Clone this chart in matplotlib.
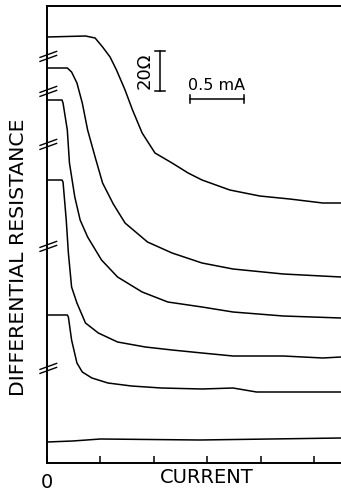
import matplotlib
matplotlib.use("Agg")
import matplotlib.pyplot as plt

# --- DATA (current in mA, differential resistance in ohm, curves offset) ---
c1_i = [0.00, 0.36, 0.45, 0.52, 0.59, 0.65, 0.73, 0.80, 0.89, 1.01, 1.17, 1.32, 1.45, 1.71, 1.99, 2.27, 2.58, 2.75]
c1_r = [213, 213.5, 212.5, 208, 203, 196.5, 186.5, 176.5, 165, 155, 150, 145, 141.5, 136.5, 133.5, 132, 130, 130]

c2_i = [0.00, 0.19, 0.23, 0.28, 0.33, 0.38, 0.45, 0.52, 0.62, 0.73, 0.94, 1.17, 1.45, 1.74, 2.21, 2.75]
c2_r = [197.5, 197.5, 195.5, 190, 180, 166.5, 153, 140, 129.5, 120, 110.5, 105, 100, 97, 94.5, 93]

c3_i = [0.00, 0.14, 0.15, 0.19, 0.21, 0.26, 0.31, 0.38, 0.51, 0.66, 0.89, 1.13, 1.45, 1.74, 2.21, 2.75]
c3_r = [181.5, 181.5, 180, 166.5, 150, 133, 121.5, 113, 101.5, 93, 85.5, 80.5, 78, 75.5, 73.5, 72.5]

c4_i = [0.00, 0.14, 0.15, 0.18, 0.20, 0.23, 0.28, 0.36, 0.48, 0.66, 0.92, 1.17, 1.45, 1.74, 2.21, 2.58, 2.75]
c4_r = [141.5, 141.5, 140.5, 121.5, 105, 88, 80, 70, 65, 60.5, 58, 56.5, 55, 53.5, 53.5, 52.5, 53]

c5_i = [0.00, 0.19, 0.20, 0.23, 0.28, 0.33, 0.42, 0.57, 0.79, 1.07, 1.45, 1.74, 1.96, 2.21, 2.75]
c5_r = [74, 74, 73, 61.5, 50, 45.5, 42.5, 40, 38.5, 37.5, 37, 37.5, 35.5, 35.5, 35.5]

c6_i = [0.00, 0.24, 0.50, 1.43, 2.75]
c6_r = [10.5, 11, 12, 11.5, 12.5]

curves = [(c1_i, c1_r), (c2_i, c2_r), (c3_i, c3_r), (c4_i, c4_r), (c5_i, c5_r), (c6_i, c6_r)]
breaks = [204, 186.5, 160, 109, 48]   # axis break marks between curves
tick_pos = [0, 0.5, 1.0, 1.5, 2.0, 2.5]
tick_lab = ["0", "", "", "", "", ""]

fig = plt.figure(figsize=(3.41, 4.96), dpi=100)
ax = fig.add_axes([47 / 341, 33 / 496, 294 / 341, 457 / 496])

for xs, ys in curves:
    ax.plot(xs, ys, color="black", lw=1.1)

# break marks on the left axis
for yb in breaks:
    for d in (-2.0, 0.0):
        ax.plot([-0.065, 0.09], [yb + d - 1.2, yb + d + 1.8], color="black",
                lw=1.0, clip_on=False)

# scale bars
ax.plot([1.056, 1.056], [186, 206], color="black", lw=1.1)
ax.plot([1.01, 1.10], [206, 206], color="black", lw=1.1)
ax.plot([1.01, 1.10], [186, 186], color="black", lw=1.1)
ax.text(0.91, 196, "20Ω", rotation=90, ha="center", va="center", fontsize=13)

ax.plot([1.34, 1.84], [182, 182], color="black", lw=1.1)
ax.plot([1.34, 1.34], [180, 184], color="black", lw=1.1)
ax.plot([1.84, 1.84], [180, 184], color="black", lw=1.1)
ax.text(1.59, 185, "0.5 mA", ha="center", va="bottom", fontsize=11.5)

ax.set_xlim(0, 2.75)
ax.set_ylim(0, 228.5)
ax.set_xticks(tick_pos)
ax.set_xticklabels(tick_lab, fontsize=14)
ax.set_yticks([])
ax.tick_params(axis="x", direction="in", length=5, width=1.1, pad=7)
ax.spines["right"].set_visible(False)
for s in ("left", "top", "bottom"):
    ax.spines[s].set_linewidth(1.4)

ax.set_xlabel("CURRENT", fontsize=14)
ax.xaxis.set_label_coords(0.544, -0.012)
ax.set_ylabel("DIFFERENTIAL RESISTANCE", fontsize=14.7)
ax.yaxis.set_label_coords(-0.065, 0.45)

fig.savefig("out.png", dpi=100)
